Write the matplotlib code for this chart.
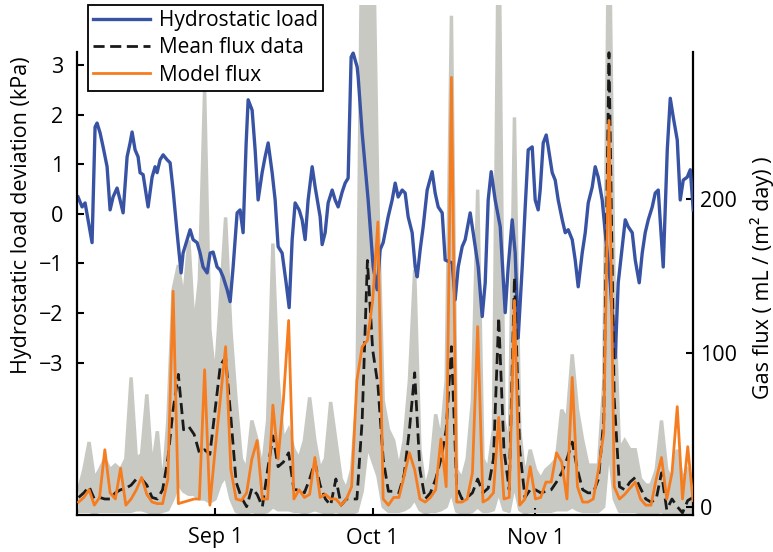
import numpy as np
import matplotlib
matplotlib.use("Agg")
import matplotlib.pyplot as plt

plt.rcParams['font.family'] = ['Open Sans', 'DejaVu Sans']

# days counted from Aug 1 (Aug 1 = 0)
tick_days = [31, 61, 92]
tick_labels = ['Sep 1', 'Oct 1', 'Nov 1']

# hydrostatic load deviation (kPa), irregular sampling
load_day = [4.90, 5.67, 6.24, 6.81, 7.57, 8.14, 8.52, 9.10, 9.67, 10.43,
            11.0, 11.57, 12.33, 12.90, 13.48, 14.24, 14.81, 15.19, 15.76, 16.33,
            16.71, 17.29, 18.05, 18.24, 19.0, 19.57, 19.95, 20.52, 21.10, 21.86,
            22.43, 23.0, 23.76, 24.52, 24.90, 25.67, 26.24, 26.81, 27.57, 28.14,
            28.71, 29.48, 30.05, 30.62, 31.38, 31.95, 32.52, 33.29, 33.86, 34.43,
            35.19, 35.76, 36.33, 36.90, 37.29, 38.05, 38.62, 39.19, 39.95, 40.52,
            41.10, 41.86, 42.43, 43.0, 43.76, 44.52, 45.10, 45.67, 46.24, 47.0,
            47.57, 48.14, 48.71, 49.48, 50.05, 51.0, 51.38, 51.95, 52.52, 53.29,
            53.86, 54.43, 55.19, 55.76, 56.33, 56.90, 57.29, 58.05, 58.24, 59.0,
            59.57, 60.14, 61.10, 61.86, 62.43, 63.0, 63.95, 64.71, 65.29, 65.86,
            66.62, 67.19, 67.76, 68.52, 69.10, 69.48, 70.05, 70.62, 71.38, 72.33,
            72.90, 73.48, 74.24, 74.81, 76.14, 76.71, 77.29, 78.05, 78.62, 79.57,
            80.14, 81.10, 81.86, 82.43, 83.0, 83.57, 84.33, 85.29, 86.24, 86.81,
            87.57, 88.14, 88.71, 89.48, 90.05, 90.62, 91.38, 91.95, 92.52, 92.90,
            93.48, 94.05, 94.43, 95.19, 95.76, 96.33, 97.10, 97.67, 98.24, 99.0,
            99.57, 100.14, 100.90, 101.48, 102.05, 102.81, 103.38, 103.95, 104.71, 105.29,
            106.24, 107.19, 107.76, 108.52, 109.10, 109.67, 110.43, 111.0, 111.76, 112.33,
            112.90, 113.48, 114.24, 114.81, 115.38, 116.33, 117.10, 117.67, 118.24, 119.0,
            119.57, 120.14, 120.90, 121.48, 122.05]
load_kpa = [0.34, 0.14, 0.22, -0.12, -0.58, 1.75, 1.83, 1.63, 1.35, 0.95,
            0.08, 0.34, 0.52, 0.28, 0.02, 1.15, 1.43, 1.65, 1.29, 1.15,
            0.83, 0.79, 0.28, 0.14, 0.74, 0.95, 0.83, 1.09, 1.19, 1.09,
            1.03, 0.48, -0.38, -1.19, -0.79, -0.52, -0.32, -0.52, -0.58, -0.79,
            -1.07, -1.19, -0.79, -0.77, -1.07, -1.13, -1.27, -1.53, -1.77, -1.07,
            0.02, 0.08, -0.38, 1.40, 2.30, 2.09, 1.29, 0.28, 0.83, 1.15,
            1.43, 0.83, 0.28, -0.66, -0.79, -1.39, -1.89, -0.52, 0.22, 0.08,
            -0.12, -0.52, 0.28, 0.95, 0.54, -0.06, -0.62, -0.38, 0.22, 0.48,
            0.28, 0.14, 0.44, 0.62, 0.72, 3.16, 3.24, 2.96, 2.76, 1.63,
            0.95, 0.28, -1.07, -1.53, -0.72, -0.58, -0.06, 0.28, 0.62, 0.34,
            0.48, 0.42, -0.06, -0.38, -1.07, -1.27, -0.72, -0.26, 0.48, 0.85,
            0.42, 0.14, 0.02, -0.93, -0.99, -1.73, -1.07, -0.66, -0.52, 0.02,
            -0.38, -1.07, -2.07, -1.39, 0.28, 0.85, 0.28, -0.26, -1.99, -1.07,
            -0.12, -0.79, -2.50, -1.07, 0.14, 1.29, 1.35, 0.28, 0.08, 0.48,
            1.43, 1.59, 1.35, 0.83, 0.68, 0.28, -0.12, -0.38, -0.32, -0.52,
            -0.93, -1.47, -0.79, -0.38, 0.22, 0.54, 0.95, 0.74, 0.28, -0.38,
            -1.39, -2.90, -1.39, -0.66, -0.12, -0.26, -0.38, -0.93, -1.39, -0.79,
            -0.38, -0.12, 0.14, 0.42, 0.48, -1.07, 1.29, 2.33, 1.95, 1.49,
            0.28, 0.68, 0.74, 0.89, 0.08]

# daily gas flux, Aug 5 .. Dec 1  (mL / (m2 day))
flux_day = np.arange(5, 123)
model_flux = [3, 6, 11, 1, 6, 37, 9, 5, 25, 1,
              5, 11, 19, 8, 3, 2, 2, 18, 140, 2,
              3, 4, 5, 5, 89, 1, 37, 70, 104, 24,
              5, 4, 9, 31, 43, 5, 5, 66, 31, 69,
              121, 5, 11, 6, 8, 32, 6, 8, 5, 5,
              1, 5, 13, 82, 104, 108, 134, 185, 5, 1,
              6, 6, 20, 35, 24, 5, 3, 6, 11, 44,
              13, 279, 3, 3, 5, 22, 117, 3, 5, 9,
              58, 5, 6, 134, 1, 5, 26, 5, 6, 16,
              16, 35, 29, 5, 84, 13, 3, 3, 5, 24,
              48, 251, 13, 5, 8, 12, 16, 5, 1, 1,
              18, 32, 5, 22, 65, 5, 39, 4]
mean_flux = [6, 9, 13, 5, 6, 5, 5, 9, 11, 12,
             14, 18, 18, 14, 6, 5, 11, 31, 63, 86,
             50, 52, 47, 35, 37, 34, 63, 92, 97, 58,
             16, 6, 0, 12, 8, 0, 24, 46, 26, 29,
             35, 11, 11, 9, 18, 29, 14, 5, 1, 18,
             1, 5, 5, 5, 56, 160, 102, 79, 31, 10,
             10, 9, 21, 50, 87, 24, 5, 9, 18, 31,
             50, 104, 13, 5, 6, 9, 18, 9, 12, 31,
             123, 37, 11, 149, 37, 6, 11, 11, 9, 10,
             11, 16, 22, 31, 42, 24, 11, 9, 9, 18,
             56, 295, 70, 13, 11, 16, 19, 12, 5, 3,
             5, 22, -2, 5, 0, -4, 4, 6]
# spread of the individual flux records
flux_hi = [11, 24, 42, 18, 24, 31, 24, 27, 24, 31,
           84, 31, 34, 73, 24, 49, 11, 56, 141, 157,
           134, 173, 115, 147, 271, 115, 82, 134, 188, 115,
           69, 31, 24, 56, 43, 24, 56, 171, 82, 43,
           50, 37, 31, 43, 71, 43, 24, 31, 68, 43,
           18, 11, 24, 69, 400, 420, 400, 199, 69, 50,
           43, 24, 43, 82, 154, 37, 11, 24, 60, 43,
           82, 319, 24, 18, 31, 69, 206, 31, 24, 50,
           400, 56, 37, 253, 50, 18, 37, 24, 18, 24,
           27, 31, 63, 56, 99, 63, 43, 27, 27, 27,
           80, 400, 134, 37, 43, 37, 37, 18, 14, 14,
           24, 56, 24, 18, 37, 18, 24, 18]
flux_lo = [-3, -3, -3, -4, -3, -3, -3, -3, -3, -3,
           -3, -2, -2, -3, -4, -4, -3, -2, 5, 15,
           10, 8, 8, 5, 5, 3, 5, 15, 20, 5,
           -3, -4, -4, -3, -4, -4, -3, 0, -2, -2,
           -2, -3, -3, -4, -3, -2, -3, -4, -4, -3,
           -4, -4, -4, -3, 10, 40, 30, 20, 0, -3,
           -3, -3, -2, 0, 5, -2, -4, -3, -3, -2,
           0, 10, -3, -4, -4, -3, 0, -3, -3, -2,
           10, -2, -3, 15, -2, -4, -3, -3, -3, -3,
           -3, -2, -2, -2, 0, -2, -3, -3, -3, -3,
           0, 40, 5, -3, -3, -3, -3, -4, -4, -4,
           -4, -3, -5, -4, -5, -5, -4, -4]

blue = '#3853a4'
orange = '#f57d20'
grey = '#c9c9c4'

fig = plt.figure(figsize=(7.73, 5.52), dpi=100)
rect = [77 / 773, 37 / 552, 616 / 773, 510 / 552]
axg = fig.add_axes(rect, zorder=1)
axh = fig.add_axes(rect, sharex=axg, zorder=2)
axf = fig.add_axes(rect, sharex=axg, sharey=axg, zorder=3)
axh.patch.set_visible(False)
axf.patch.set_visible(False)

# grey band of individual records
axg.fill_between(flux_day, flux_lo, flux_hi, color=grey, lw=0)
axg.plot(flux_day, flux_hi, color=grey, lw=2.5, solid_joinstyle='miter')
axg.plot(flux_day, flux_lo, color=grey, lw=2.5)

lh, = axh.plot(load_day, load_kpa, color=blue, lw=2.4, label='Hydrostatic load')
lm, = axf.plot(flux_day, mean_flux, color='#1a1a1a', lw=2.0, ls=(0, (4, 2)),
               label='Mean flux data')
lo, = axf.plot(flux_day, model_flux, color=orange, lw=2.0, label='Model flux')

axg.set_xlim(4.7, 122.0)
axg.set_ylim(-5.4, 326)
axh.set_ylim(-6.07, 4.21)

# right axis: flux
for s in ['left', 'top']:
    axg.spines[s].set_visible(False)
axg.spines['right'].set_bounds(-5.4, 295.5)
for s in ['right', 'bottom']:
    axg.spines[s].set_linewidth(1.6)
axg.yaxis.tick_right()
axg.yaxis.set_label_position('right')
axg.set_yticks([0, 100, 200])
axg.set_xticks(tick_days)
axg.set_xticklabels(tick_labels)
axg.tick_params(axis='y', direction='in', length=5, width=1.5, pad=5, labelsize=15.5)
axg.tick_params(axis='x', direction='in', length=5, width=1.5, pad=9, labelsize=15.5)
axg.set_ylabel('Gas flux ( mL / (m² day) )', fontsize=15.5)
axg.yaxis.set_label_coords(1.092, 0.465)

# left axis: hydrostatic load
for s in ['right', 'top', 'bottom']:
    axh.spines[s].set_visible(False)
axh.spines['left'].set_bounds(-6.07, 3.26)
axh.spines['left'].set_linewidth(1.6)
axh.set_yticks([-3, -2, -1, 0, 1, 2, 3])
axh.tick_params(axis='y', direction='in', length=5, width=1.5, pad=10, labelsize=15.5)
axh.tick_params(axis='x', bottom=False, labelbottom=False)
axh.set_ylabel('Hydrostatic load deviation (kPa)', fontsize=15.5)
axh.yaxis.set_label_coords(-0.073, 0.588)

axf.axis('off')

leg = axf.legend(handles=[lh, lm, lo], loc='upper left', bbox_to_anchor=(0.018, 1.0),
                 borderaxespad=0, fontsize=15, frameon=True, fancybox=False,
                 framealpha=1, edgecolor='black', handlelength=2.7, handletextpad=0.45,
                 labelspacing=0.3, borderpad=0.25)
leg.get_frame().set_linewidth(1.3)

fig.savefig('out.png', dpi=100)
